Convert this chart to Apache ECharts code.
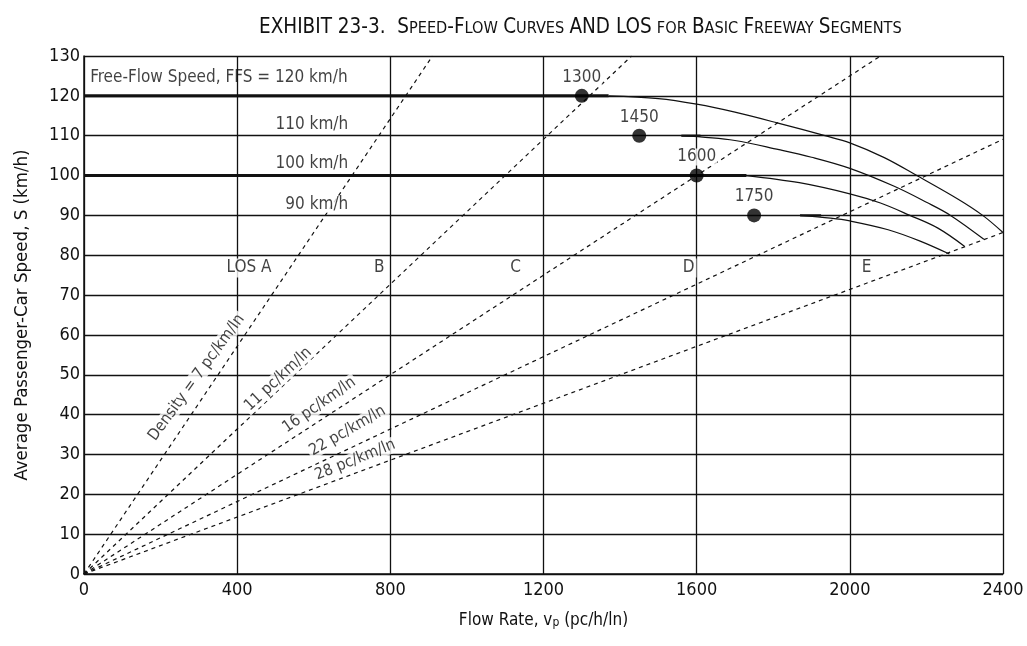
<!DOCTYPE html>
<html>
<head>
<meta charset="utf-8">
<script src="https://cdn.jsdelivr.net/npm/echarts@6/dist/echarts.min.js"></script>
<style>
html,body{margin:0;padding:0;background:#fff;}
#chart{width:1027px;height:646px;}
</style>
</head>
<body>
<div id="chart"></div>
<script>
// ---- axes ----
const xMin = 0, xMax = 2400, xStep = 400;
const yMin = 0, yMax = 130, yStep = 10;

// ---- speed-flow curves (flow pc/h/ln, speed km/h), read from the exhibit ----
const ffs120Flat = [[0, 120], [1370, 120]];
const ffs120Curve = [[1370, 120], [1500, 119.3], [1600, 117.9], [1700, 115.9], [1815, 113.1], [1935, 110], [2000, 108.2], [2090, 104.5], [2175, 100], [2284, 94], [2347, 90], [2400, 85.7]];
const ffs110Flat = [[1560, 110], [1610, 110]];
const ffs110Curve = [[1560, 110], [1700, 108.8], [1815, 106.5], [1900, 104.6], [2000, 101.8], [2116, 97.3], [2200, 93.3], [2263, 90], [2350, 84]];
const ffs100Flat = [[0, 100], [1730, 100]];
const ffs100Curve = [[1730, 100], [1868, 98.2], [2000, 95.4], [2080, 93.1], [2157, 90], [2230, 86.8], [2300, 82.2]];
const ffs90Flat = [[1870, 90], [1925, 90]];
const ffs90Curve = [[1870, 90], [1950, 89.3], [2000, 88.6], [2100, 86.4], [2182, 83.6], [2260, 80.3]];

// ---- breakpoints (flow at which speed leaves FFS) ----
const breakFlows = [1300, 1450, 1600, 1750];
const breakSpeeds = [120, 110, 100, 90];

// ---- density (LOS boundary) lines ----
const density7 = [[0, 0], [910, 130]];
const density11 = [[0, 0], [1430, 130]];
const density16 = [[0, 0], [2080, 130]];
const density22 = [[0, 0], [2400, 109.1]];
const density28 = [[0, 0], [2400, 85.7]];

// ---- text annotations ----
const densityTexts = ['Density = 7 pc/km/ln', '11 pc/km/ln', '16 pc/km/ln', '22 pc/km/ln', '28 pc/km/ln'];
const densityTextAt = [[294, 49.3], [507, 48.9], [614, 42.4], [688, 35.9], [708, 28.6]];
const densityTextAngle = [54, 43, 35, 30, 22];

const ffsTexts = ['110 km/h', '100 km/h', '90 km/h'];
const ffsTextAt = [[595, 112.9], [595, 103.1], [608, 92.8]];
const ffsTitleText = 'Free-Flow Speed, FFS = 120 km/h';
const ffsTitleAt = [16, 124.5];

const losTexts = ['LOS A', 'B', 'C', 'D', 'E'];
const losTextAt = [[431, 76.8], [771, 76.8], [1127, 76.8], [1579, 76.8], [2044, 76.8]];

const FONT = "'DejaVu Sans Condensed', 'Liberation Sans', sans-serif";
const INK = '#111';

function lineSeries(data, width, dashed, smooth) {
  return {
    type: 'line', data: data, symbol: 'none', silent: true, z: 3,
    smooth: smooth ? 0.35 : false,
    lineStyle: { color: INK, width: width, type: dashed ? [4, 4] : 'solid' }
  };
}

const annotations = [];
densityTexts.forEach((t, i) => annotations.push({
  value: densityTextAt[i],
  label: { show: true, formatter: t, rotate: densityTextAngle[i], position: 'inside', fontSize: 16,
           fontFamily: FONT, color: INK, backgroundColor: '#fff', padding: [0, 2] }
}));
ffsTexts.forEach((t, i) => annotations.push({
  value: ffsTextAt[i],
  label: { show: true, formatter: t, position: 'inside', fontSize: 17, fontFamily: FONT, color: INK,
           backgroundColor: '#fff', padding: [0, 3] }
}));
annotations.push({
  value: ffsTitleAt,
  label: { show: true, formatter: ffsTitleText, position: 'right', distance: 0, fontSize: 17, fontFamily: FONT, color: INK }
});
losTexts.forEach((t, i) => annotations.push({
  value: losTextAt[i],
  label: { show: true, formatter: t, position: 'inside', fontSize: 17, fontFamily: FONT, color: INK,
           backgroundColor: '#fff', padding: [1, 2] }
}));

const chart = echarts.init(document.getElementById('chart'), null, { renderer: 'canvas' });
chart.setOption({
  animation: false,
  backgroundColor: '#fff',
  textStyle: { fontFamily: FONT, color: INK },
  title: {
    left: 254, top: 7,
    text: '{b|EXHIBIT 23-3.  S}{s|PEED}{b|-F}{s|LOW} {b|C}{s|URVES} {b|AND LOS} {s|FOR} {b|B}{s|ASIC} {b|F}{s|REEWAY} {b|S}{s|EGMENTS}',
    textStyle: {
      fontFamily: FONT, fontWeight: 'normal',
      rich: {
        b: { fontFamily: FONT, fontWeight: 'normal', fontSize: 20.5, color: INK, lineHeight: 26, verticalAlign: 'bottom' },
        s: { fontFamily: FONT, fontWeight: 'normal', fontSize: 16.2, color: INK, lineHeight: 26, verticalAlign: 'bottom', padding: [0, 0, 1, 0] }
      }
    }
  },
  grid: { left: 84, right: 24, top: 56, bottom: 72, containLabel: false },
  xAxis: {
    type: 'value', min: xMin, max: xMax, interval: xStep,
    name: 'Flow Rate, v{sub|p} (pc/h/ln)',
    nameLocation: 'middle', nameGap: 38,
    nameTextStyle: {
      fontFamily: FONT, fontSize: 17, color: INK,
      rich: {
        sub: { fontFamily: FONT, fontSize: 12, color: INK, verticalAlign: 'bottom', lineHeight: 8 }
      }
    },
    axisLine: { show: true, lineStyle: { color: INK, width: 1.5 } },
    axisTick: { show: false },
    axisLabel: { fontFamily: FONT, fontSize: 18, color: INK, margin: 7, formatter: v => String(v) },
    splitLine: { show: true, lineStyle: { color: INK, width: 1.3 } }
  },
  yAxis: {
    type: 'value', min: yMin, max: yMax, interval: yStep,
    name: 'Average Passenger-Car Speed, S (km/h)',
    nameLocation: 'middle', nameGap: 52, nameRotate: 90,
    nameTextStyle: { fontFamily: FONT, fontSize: 18.5, color: INK },
    axisLine: { show: true, lineStyle: { color: INK, width: 1.5 } },
    axisTick: { show: false },
    axisLabel: { fontFamily: FONT, fontSize: 18, color: INK, margin: 4, formatter: v => String(v) },
    splitLine: { show: true, lineStyle: { color: INK, width: 1.3 } }
  },
  series: [
    lineSeries(density7, 1.2, true),
    lineSeries(density11, 1.2, true),
    lineSeries(density16, 1.2, true),
    lineSeries(density22, 1.2, true),
    lineSeries(density28, 1.2, true),
    lineSeries(ffs120Flat, 3, false),
    lineSeries(ffs100Flat, 3, false),
    lineSeries(ffs110Flat, 2.2, false),
    lineSeries(ffs90Flat, 2.2, false),
    lineSeries(ffs120Curve, 1.2, false, true),
    lineSeries(ffs110Curve, 1.2, false, true),
    lineSeries(ffs100Curve, 1.2, false, true),
    lineSeries(ffs90Curve, 1.2, false, true),
    {
      type: 'scatter', silent: true, z: 6,
      symbol: 'circle', symbolSize: 14,
      itemStyle: { color: '#000' },
      data: breakFlows.map((f, i) => [f, breakSpeeds[i]]),
      label: {
        show: true, position: 'top', distance: 3,
        formatter: p => String(p.value[0]),
        fontFamily: FONT, fontSize: 17, color: INK,
        backgroundColor: '#fff', padding: [0, 1]
      }
    },
    {
      type: 'scatter', silent: true, z: 5,
      symbolSize: 0,
      data: annotations,
      label: { fontFamily: FONT, color: INK }
    }
  ]
});
</script>
</body>
</html>
